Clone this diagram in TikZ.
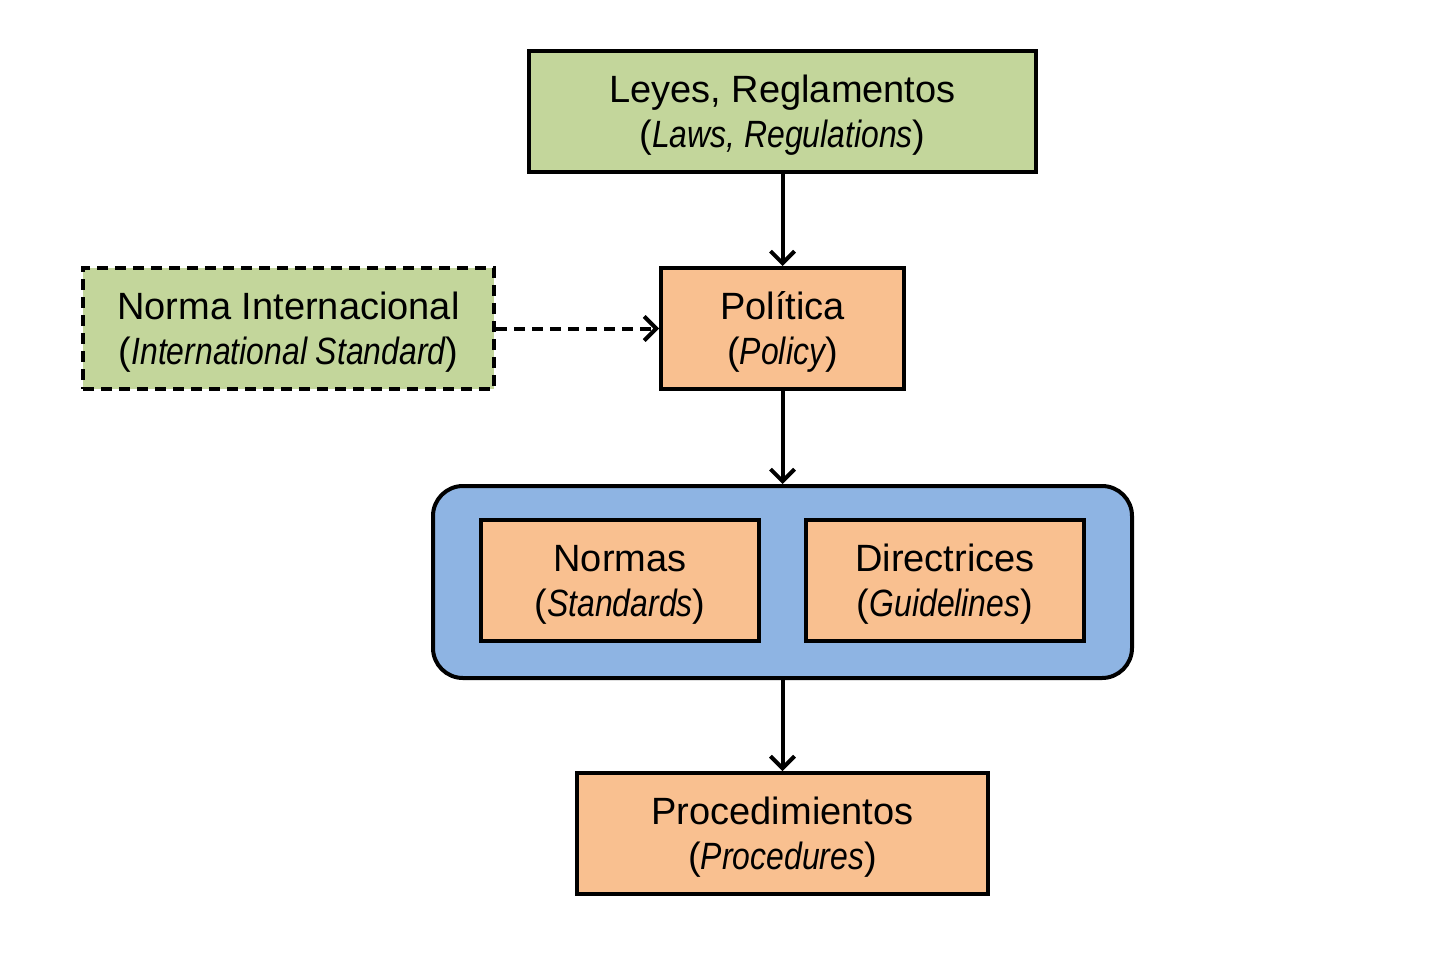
\documentclass[tikz,border=0pt]{standalone}
\usepackage{fontspec}
\setmainfont{Liberation Sans}
\newfontface\narit{Liberation Sans Italic}[FakeStretch=0.84]
\usetikzlibrary{arrows.meta}

\tikzset{
  box/.style={draw=black,line width=4pt,minimum height=121pt,align=center,
    font=\fontsize{38}{45}\selectfont,inner sep=0pt,text depth=0pt},
  greenbox/.style={box,fill=lawgreen},
  orangebox/.style={box,fill=docorange},
  flow/.style={line width=4pt,-{Straight Barb[length=12pt,width=24pt,line width=4pt]}},
}
\definecolor{lawgreen}{HTML}{C3D69B}
\definecolor{docorange}{HTML}{F9C090}
\definecolor{groupblue}{HTML}{8EB4E3}
\newcommand{\eng}[1]{({\narit #1})}

\begin{document}
\begin{tikzpicture}[x=1pt,y=-1pt]
        \useasboundingbox (0,0) rectangle (1440,956);
        % grouping frame
        \node[draw=black,line width=4pt,fill=groupblue,rounded corners=30pt,
          minimum width=699pt,minimum height=192pt] (GRP) at (782.5,582) {};

        \node[greenbox,minimum width=507pt] (LAW) at (782.5,111.5)
          {Leyes, Reglamentos\\\eng{Laws, Regulations}};
        \node[greenbox,dash pattern=on 11pt off 7pt,minimum width=411pt] (ISO) at (288.5,328.5)
          {Norma Internacional\\\eng{International Standard}};
        \node[orangebox,minimum width=243pt] (POL) at (782.5,328.5)
          {Política\\\eng{Policy}};
        \node[orangebox,minimum width=278pt] (STD) at (620,580.5)
          {Normas\\\eng{Standards}};
        \node[orangebox,minimum width=278pt] (GDL) at (945,580.5)
          {Directrices\\\eng{Guidelines}};
        \node[orangebox,minimum width=411pt] (PRC) at (782.5,833.5)
          {Procedimientos\\\eng{Procedures}};

        \draw[flow] (LAW) -- (POL);
        \draw[flow,dash pattern=on 11pt off 7pt] (ISO) -- (POL);
        \draw[flow] (POL) -- (GRP);
        \draw[flow] (GRP) -- (PRC);
      \end{tikzpicture}
\end{document}
